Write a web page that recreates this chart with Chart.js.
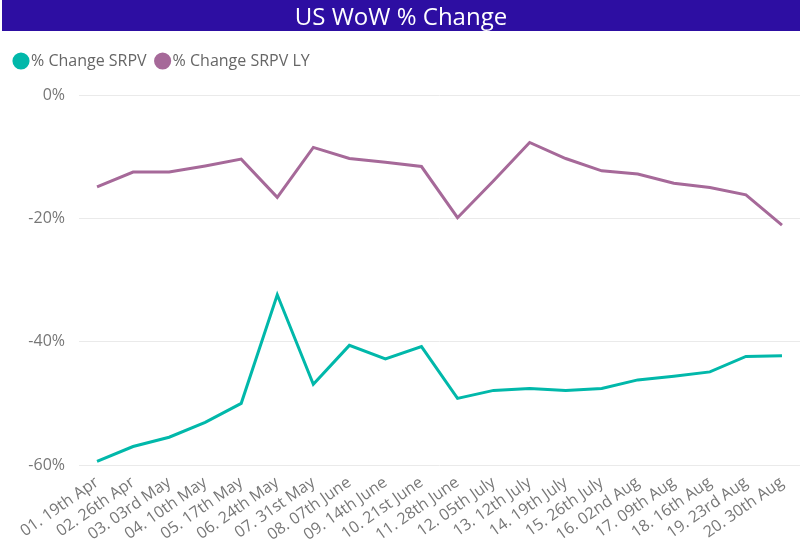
<!DOCTYPE html>
<html>
<head>
<meta charset="utf-8">
<script src="https://cdn.jsdelivr.net/npm/chart.js@4/dist/chart.umd.min.js"></script>
<style>
  html, body { margin:0; padding:0; background:#fff; }
  #wrap { position:relative; width:800px; height:544px; overflow:hidden; }
  #banner { position:absolute; left:2px; top:0; width:798px; height:31px; background:#2D0EA2;
    color:#fff; font-family:"Open Sans", sans-serif; font-size:24px; line-height:31px; text-align:center; z-index:2; }
  canvas { position:absolute; left:0; top:0; }
</style>
</head>
<body>
<div id="wrap">
  <div id="banner">US WoW % Change</div>
  <canvas id="c" width="800" height="544"></canvas>
</div>
<script>
const categories = ["01. 19th Apr","02. 26th Apr","03. 03rd May","04. 10th May","05. 17th May","06. 24th May","07. 31st May","08. 07th June","09. 14th June","10. 21st June","11. 28th June","12. 05th July","13. 12th July","14. 19th July","15. 26th July","16. 02nd Aug","17. 09th Aug","18. 16th Aug","19. 23rd Aug","20. 30th Aug"];
const srpv = [-59.4,-57.0,-55.5,-53.1,-50.0,-32.4,-46.9,-40.6,-42.8,-40.8,-49.2,-47.9,-47.6,-47.9,-47.6,-46.2,-45.6,-44.9,-42.4,-42.3];
const srpvLY = [-14.9,-12.5,-12.5,-11.5,-10.4,-16.6,-8.5,-10.3,-10.9,-11.6,-19.9,-13.9,-7.7,-10.3,-12.3,-12.8,-14.3,-15.0,-16.2,-21.1];
const yTicks = [0,-20,-40,-60];

const FONT = "'Open Sans', sans-serif";
const legendGap = {
  id: 'legendGap',
  beforeLayout(chart) {
    const lg = chart.legend;
    if (lg && !lg._gapPatched) {
      const f = lg.fit;
      lg.fit = function() { f.apply(this, arguments); this.height += 16; };
      lg._gapPatched = true;
    }
  }
};
new Chart(document.getElementById('c'), {
  type: 'line',
  data: {
    labels: categories,
    datasets: [
      { label: '% Change SRPV', data: srpv, borderColor: '#01B8AA', backgroundColor: '#01B8AA', borderWidth: 3, pointRadius: 0, tension: 0 },
      { label: '% Change SRPV LY', data: srpvLY, borderColor: '#A66999', backgroundColor: '#A66999', borderWidth: 3, pointRadius: 0, tension: 0 }
    ]
  },
  plugins: [legendGap],
  options: {
    responsive: false,
    animation: false,
    layout: { padding: { top: 39, left: 5, right: 0, bottom: 0 } },
    plugins: {
      legend: {
        position: 'top', align: 'start',
        labels: { usePointStyle: true, pointStyle: 'circle', boxWidth: 4, boxHeight: 10, padding: 14,
          color: '#666', font: { family: FONT, size: 16 } }
      },
      tooltip: { enabled: false }
    },
    scales: {
      x: {
        offset: true,
        grid: { display: false },
        border: { display: false },
        ticks: { color: '#777', font: { family: FONT, size: 16 }, minRotation: 35, maxRotation: 35, autoSkip: false, padding: 0 },
        afterFit: s => { s.height = 79; }
      },
      y: {
        min: -60, max: 0,
        afterBuildTicks: s => { s.ticks = yTicks.map(v => ({ value: v })); },
        grid: { color: '#eaeaea', lineWidth: 1, drawTicks: false },
        border: { display: false },
        ticks: { color: '#777', font: { family: FONT, size: 16 }, padding: 14, callback: v => v + '%' },
        afterFit: s => { s.width = 74; }
      }
    }
  }
});
</script>
</body>
</html>
